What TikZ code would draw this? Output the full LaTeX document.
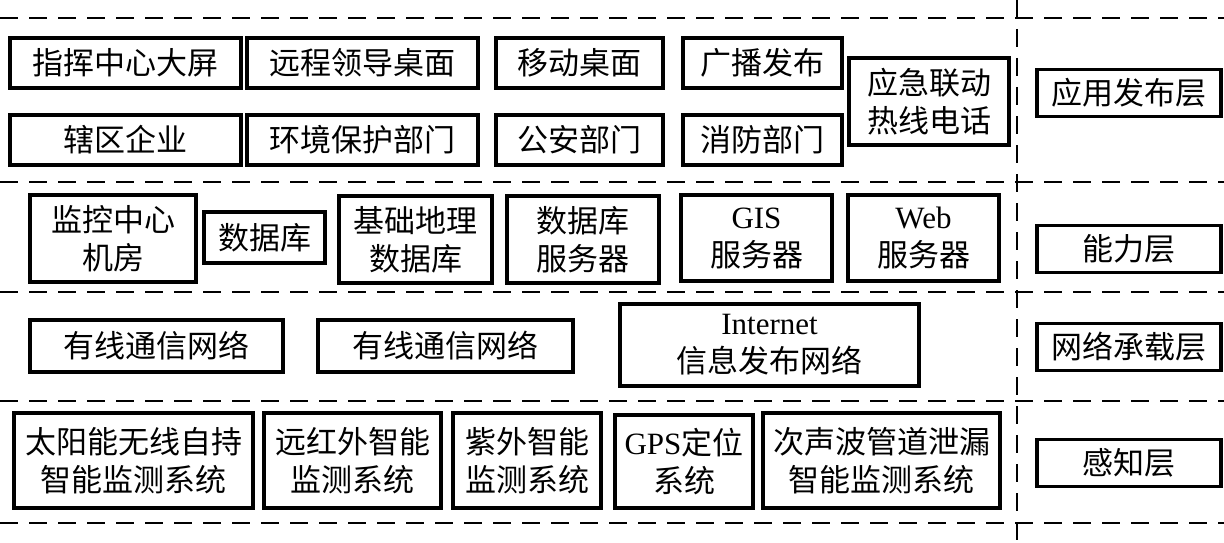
\documentclass[tikz,border=0pt]{standalone}
\usepackage{fontspec}
\setmainfont{Noto Sans CJK SC}
\newfontfamily\en{Liberation Serif}
\usepackage{tikz}

\begin{document}
\begin{tikzpicture}[x=1pt,y=-1pt,
  box/.style={draw=black,line width=3.2pt,inner sep=0pt,align=center,font=\fontsize{31}{38}\selectfont},
  lay/.style={box,minimum width=184,minimum height=47},
  sep/.style={draw=black,line width=1.7pt,dash pattern=on 18pt off 11pt}]
\useasboundingbox (0,0) rectangle (1224,543);
% layer separators
\foreach \yy in {18,182,292,401,523}
  \draw[sep] (0,\yy) -- (1224,\yy);
\draw[sep] (1017,0) -- (1017,543);
% application layer
\node[box,minimum width=231,minimum height=50] (zhihui) at (125.5,63) {指挥中心大屏};
\node[box,minimum width=231,minimum height=50] (yuancheng) at (362.5,63) {远程领导桌面};
\node[box,minimum width=167,minimum height=50] (yidong) at (579.5,63) {移动桌面};
\node[box,minimum width=159,minimum height=50] (guangbo) at (762.5,63) {广播发布};
\node[box,minimum width=231,minimum height=50] (xiaqu) at (125.5,140) {辖区企业};
\node[box,minimum width=231,minimum height=50] (huanjing) at (362.5,140) {环境保护部门};
\node[box,minimum width=167,minimum height=50] (gongan) at (579.5,140) {公安部门};
\node[box,minimum width=159,minimum height=50] (xiaofang) at (762.5,140) {消防部门};
\node[box,minimum width=160,minimum height=87] (yingji) at (929,101.5) {应急联动\\热线电话};
% capability layer
\node[box,minimum width=166,minimum height=87] (jiankong) at (113,238.5) {监控中心\\机房};
\node[box,minimum width=121,minimum height=51] (shujuku) at (264.5,237.5) {数据库};
\node[box,minimum width=153,minimum height=87] (jichu) at (415.5,239.5) {基础地理\\数据库};
\node[box,minimum width=152,minimum height=87] (dbserver) at (583,239.5) {数据库\\服务器};
\node[box,minimum width=151,minimum height=86] (gis) at (756.5,238) {{\en GIS}\\服务器};
\node[box,minimum width=151,minimum height=86] (web) at (923.5,238) {{\en Web}\\服务器};
% network layer
\node[box,minimum width=253,minimum height=52] (wired1) at (156.5,346) {有线通信网络};
\node[box,minimum width=255,minimum height=52] (wired2) at (445.5,346) {有线通信网络};
\node[box,minimum width=299,minimum height=82] (internet) at (769.5,345) {{\en Internet}\\信息发布网络};
% sensing layer
\node[box,minimum width=239,minimum height=95] (taiyang) at (133.5,460.5) {太阳能无线自持\\智能监测系统};
\node[box,minimum width=177,minimum height=95] (yuanhong) at (352.5,460.5) {远红外智能\\监测系统};
\node[box,minimum width=148,minimum height=95] (ziwai) at (527,460.5) {紫外智能\\监测系统};
\node[box,minimum width=138,minimum height=93] (gps) at (684,461.5) {{\en GPS}定位\\系统};
\node[box,minimum width=237,minimum height=95] (cisheng) at (881.5,460.5) {次声波管道泄漏\\智能监测系统};
% layer names
\node[lay] (yingyong) at (1129,93) {应用发布层};
\node[lay] (nengli) at (1129,249) {能力层};
\node[lay] (wangluo) at (1129,347) {网络承载层};
\node[lay] (ganzhi) at (1129,463) {感知层};
\end{tikzpicture}
\end{document}
